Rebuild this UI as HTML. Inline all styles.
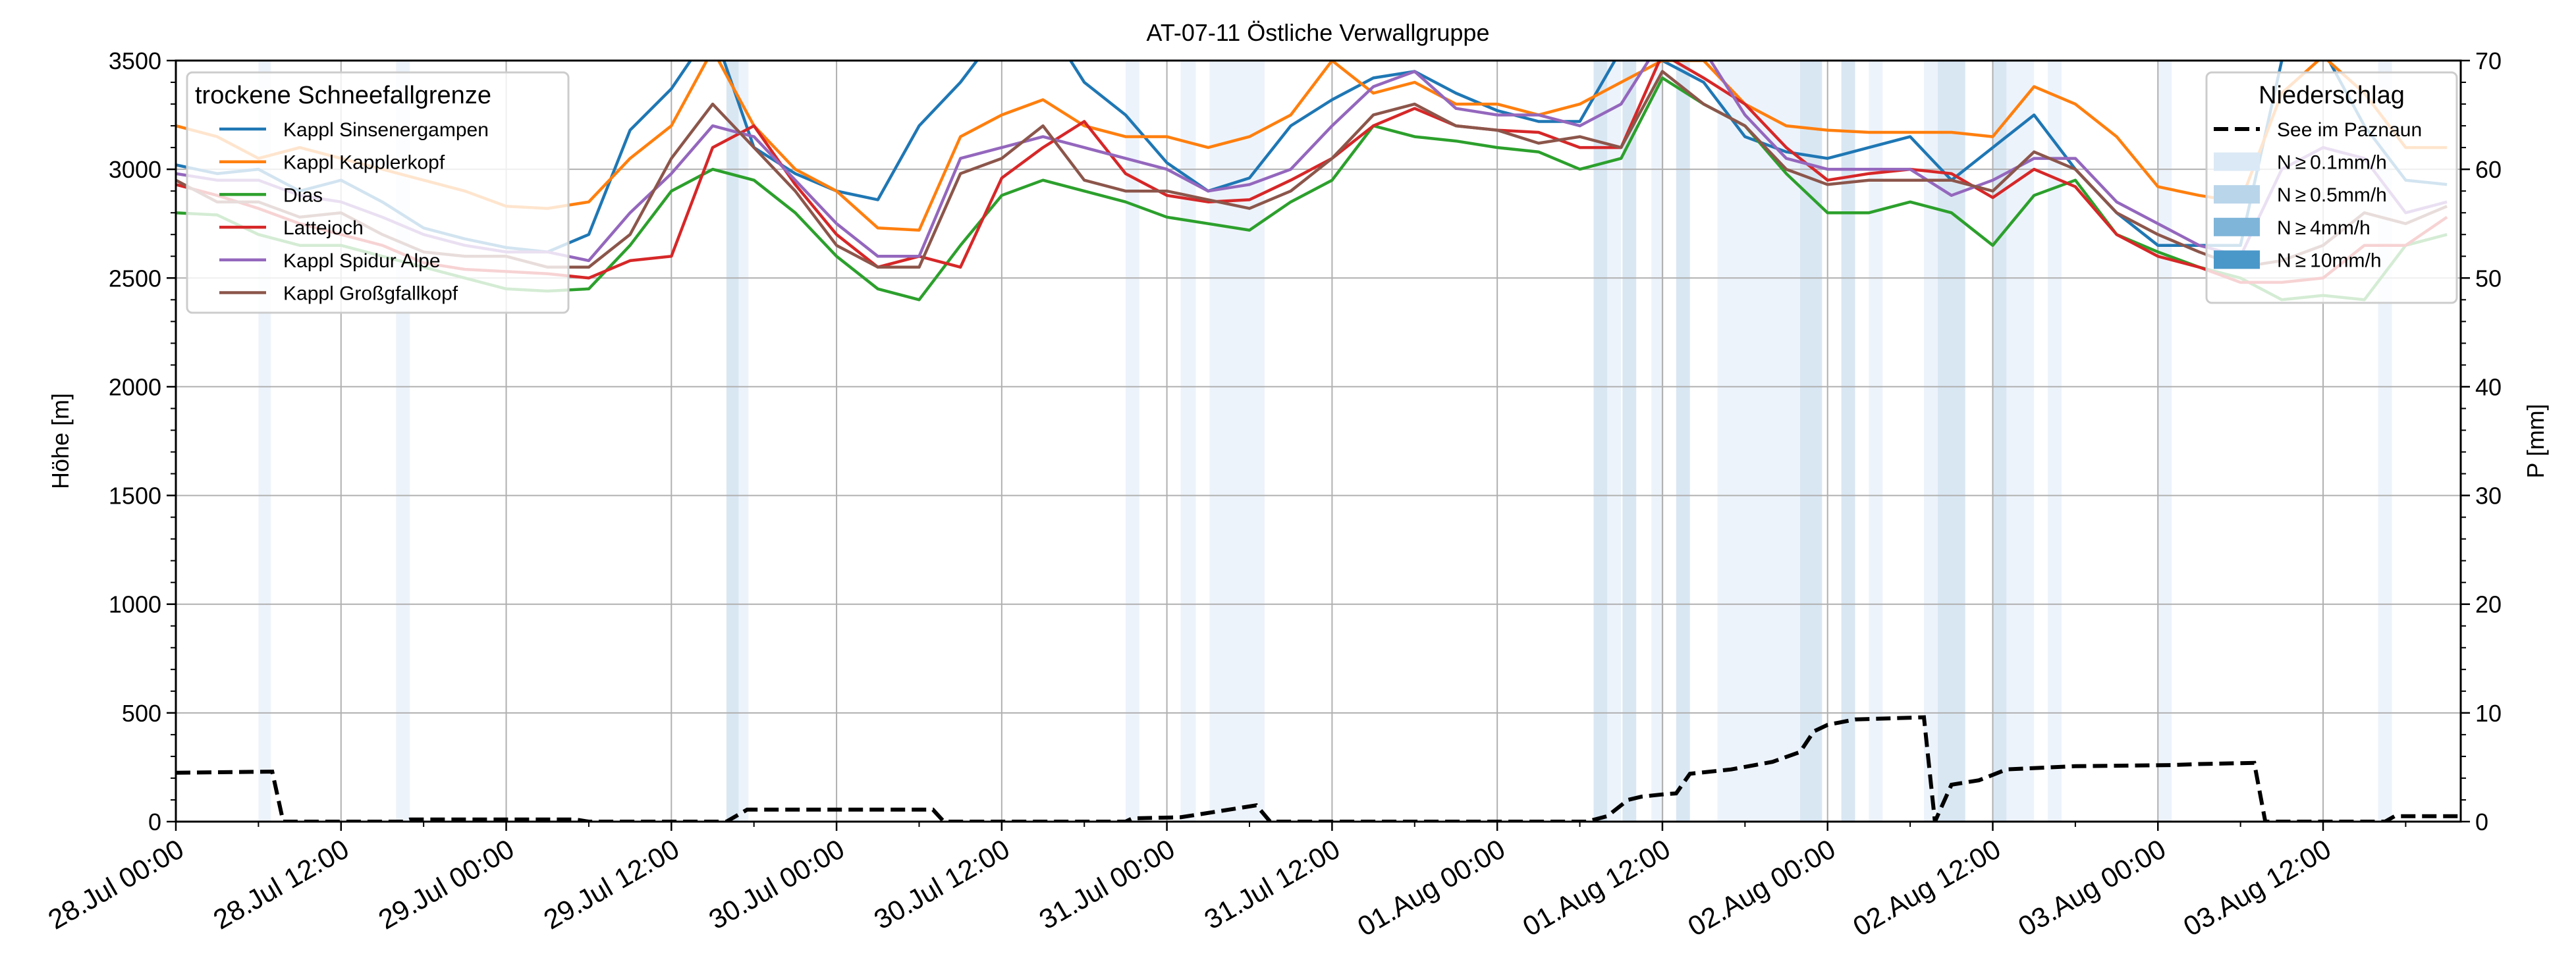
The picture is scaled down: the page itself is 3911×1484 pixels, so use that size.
<!DOCTYPE html>
<html><head><meta charset="utf-8"><style>
html,body{margin:0;padding:0;background:#fff;}
svg{display:block;font-family:"Liberation Sans","DejaVu Sans",sans-serif;}
</style></head><body>
<svg id="chart" width="3911" height="1484" viewBox="0 0 3911 1484" xmlns="http://www.w3.org/2000/svg">
<defs><clipPath id="plotclip"><rect x="267" y="92" width="3469" height="1156"/></clipPath></defs>
<rect width="3911" height="1484" fill="#fff"/>
<g id="bands" clip-path="url(#plotclip)"></g>
<g id="grid"></g>
<g id="series" clip-path="url(#plotclip)"></g>
<g id="axes"></g>
<text x="2001" y="62" font-size="36" text-anchor="middle">AT-07-11 Östliche Verwallgruppe</text>
<text x="0" y="0" font-size="36" text-anchor="middle" transform="translate(104,670) rotate(-90)">Höhe [m]</text>
<text x="0" y="0" font-size="36" text-anchor="middle" transform="translate(3862,670) rotate(-90)">P [mm]</text>
<g id="legend-left"></g>
<g id="legend-right"></g>
</svg>
<script>
const hours = [];
for (let k = 0; k < 56; k++) hours.push(k * 3);
const seriesNames = ["Kappl Sinsenergampen","Kappl Kapplerkopf","Dias","Lattejoch","Kappl Spidur Alpe","Kappl Großgfallkopf"];
const sinsenergampen = [3020,2980,3000,2900,2950,2850,2730,2680,2640,2620,2700,3180,3370,3650,3100,2980,2900,2860,3200,3400,3650,3700,3400,3250,3030,2900,2960,3200,3320,3420,3450,3350,3270,3220,3220,3550,3500,3400,3150,3080,3050,3100,3150,2950,3100,3250,3000,2800,2650,2650,2650,3500,3550,3200,2950,2930];
const kapplerkopf = [3200,3150,3050,3100,3050,3000,2950,2900,2830,2820,2850,3050,3200,3550,3200,3000,2900,2730,2720,3150,3250,3320,3200,3150,3150,3100,3150,3250,3500,3350,3400,3300,3300,3250,3300,3400,3500,3500,3300,3200,3180,3170,3170,3170,3150,3380,3300,3150,2920,2880,2850,3350,3520,3350,3100,3100];
const dias = [2800,2790,2700,2650,2650,2600,2550,2500,2450,2440,2450,2650,2900,3000,2950,2800,2600,2450,2400,2650,2880,2950,2900,2850,2780,2750,2720,2850,2950,3200,3150,3130,3100,3080,3000,3050,3420,3300,3200,2980,2800,2800,2850,2800,2650,2880,2950,2700,2620,2550,2500,2400,2420,2400,2650,2700];
const lattejoch = [2930,2880,2820,2750,2700,2650,2570,2540,2530,2520,2500,2580,2600,3100,3200,2930,2700,2550,2600,2550,2960,3100,3220,2980,2880,2850,2860,2950,3050,3200,3280,3200,3180,3170,3100,3100,3530,3420,3300,3100,2950,2980,3000,2980,2870,3000,2920,2700,2600,2550,2480,2480,2500,2650,2650,2780];
const spidurAlpe = [2980,2950,2950,2880,2850,2780,2700,2650,2620,2620,2580,2800,2980,3200,3150,2950,2750,2600,2600,3050,3100,3150,3100,3050,3000,2900,2930,3000,3200,3380,3450,3280,3250,3250,3200,3300,3600,3550,3250,3050,3000,3000,3000,2880,2950,3050,3050,2850,2750,2650,2600,3000,3100,3050,2800,2850];
const grossgfallkopf = [2950,2850,2850,2780,2800,2700,2620,2600,2600,2550,2550,2700,3050,3300,3100,2900,2650,2550,2550,2980,3050,3200,2950,2900,2900,2860,2820,2900,3050,3250,3300,3200,3180,3120,3150,3100,3450,3300,3200,3000,2930,2950,2950,2950,2900,3080,3000,2800,2700,2620,2550,2580,2650,2800,2750,2830];
const seePaznaunHours = [0,7,7.8,16.5,17,29,30,40,41.5,55,55.8,69,69.5,73,77,78.5,79.5,102.5,104,105.5,106.5,108,109,110,113,116,118,119,120,122,127,127.8,129,131,133,138,145,147,151,151.8,160.5,161.2,166];
const seePaznaunMm = [4.5,4.6,0,0,0.2,0.2,0,0,1.1,1.1,0,0,0.3,0.4,1.2,1.5,0,0,0.5,2,2.3,2.5,2.6,4.4,4.8,5.5,6.4,8.3,8.9,9.4,9.6,0,3.4,3.8,4.8,5.1,5.2,5.3,5.4,0,0,0.5,0.5];
const bandStart = [6,16,40,40.9,69,73,75.1,103,104,105.1,107.2,109,112,118,121,123,127,128,132,133,136,144,160];
const bandEnd = [6.9,17,40.9,41.6,70,74.1,79.1,104,105,106.1,108.1,110,118,119.6,122,124,128,130,133,135,137,145,161];
const bandLevel = [0,0,1,0,0,0,0,1,0,1,0,1,0,1,1,0,0,1,1,0,0,0,0];
const xTickLabels = ["28.Jul 00:00","28.Jul 12:00","29.Jul 00:00","29.Jul 12:00","30.Jul 00:00","30.Jul 12:00","31.Jul 00:00","31.Jul 12:00","01.Aug 00:00","01.Aug 12:00","02.Aug 00:00","02.Aug 12:00","03.Aug 00:00","03.Aug 12:00"];
const yTicks = [0,500,1000,1500,2000,2500,3000,3500];
const y2Ticks = [0,10,20,30,40,50,60,70];

const L=267,R=3736,T=92,B=1248,HMAX=166;
const xS=h=>L+(h/HMAX)*(R-L);
const yS=v=>B-(v/3500)*(B-T);
const y2S=v=>B-(v/70)*(B-T);
const NS="http://www.w3.org/2000/svg";
function mk(tag,attrs,parent){const e=document.createElementNS(NS,tag);for(const k in attrs)e.setAttribute(k,attrs[k]);parent.appendChild(e);return e;}
const bandColors=["#edf3fb","#d9e7f3"];
const gB=document.getElementById('bands');
bandStart.forEach((s,i)=>{
  const r=mk('rect',{x:xS(s),y:T,width:xS(bandEnd[i])-xS(s),height:B-T,fill:bandColors[bandLevel[i]]},gB);
  
  
});
const gG=document.getElementById('grid');
const gA=document.getElementById('axes');
xTickLabels.forEach((lab,i)=>{
  const x=xS(i*12);
  const gl=mk('line',{x1:x,x2:x,y1:T,y2:B,stroke:'#b0b0b0','stroke-width':2},gG);
  
  
  mk('line',{x1:x,x2:x,y1:B,y2:B+14,stroke:'#000','stroke-width':2.5},gA);
  const t=mk('text',{x:0,y:0,'font-size':42,'text-anchor':'end',transform:`translate(${x},${B+24}) rotate(-30)`,'dominant-baseline':'hanging'},gA);
  t.textContent=lab;
  
  
});
for(let h=6;h<HMAX;h+=12){const x=xS(h);mk('line',{x1:x,x2:x,y1:B,y2:B+8,stroke:'#000','stroke-width':2},gA);}
yTicks.forEach(v=>{
  const y=yS(v);
  const gl=mk('line',{x1:L,x2:R,y1:y,y2:y,stroke:'#b0b0b0','stroke-width':2},gG);
  
  
  mk('line',{x1:L-14,x2:L,y1:y,y2:y,stroke:'#000','stroke-width':2.5},gA);
  const t=mk('text',{x:L-22,y:y+13,'font-size':36,'text-anchor':'end'},gA);
  t.textContent=v;
  
  
});
for(let v=100;v<3500;v+=100){if(v%500===0)continue;const y=yS(v);mk('line',{x1:L-8,x2:L,y1:y,y2:y,stroke:'#000','stroke-width':2},gA);mk('line',{x1:R,x2:R+8,y1:y,y2:y,stroke:'#000','stroke-width':2},gA);}
y2Ticks.forEach(v=>{
  const y=y2S(v);
  mk('line',{x1:R,x2:R+14,y1:y,y2:y,stroke:'#000','stroke-width':2.5},gA);
  const t=mk('text',{x:R+22,y:y+13,'font-size':36,'text-anchor':'start'},gA);
  t.textContent=v;
  
  
});
mk('rect',{x:L,y:T,width:R-L,height:B-T,fill:'none',stroke:'#000','stroke-width':3},gA);

const colors=['#1f77b4','#ff7f0e','#2ca02c','#d62728','#9467bd','#8c564b'];
const allSeries=[sinsenergampen,kapplerkopf,dias,lattejoch,spidurAlpe,grossgfallkopf];
const gS=document.getElementById('series');
const seriesKeys=['sinsenergampen','kapplerkopf','dias','lattejoch','spidur-alpe','grossgfallkopf'];
allSeries.forEach((arr,i)=>{
  const d=arr.map((v,k)=>(k?'L':'M')+xS(hours[k]).toFixed(1)+' '+yS(v).toFixed(1)).join(' ');
  const p=mk('path',{d:d,fill:'none',stroke:colors[i],'stroke-width':4.5,'stroke-linejoin':'round'},gS);
  
  
});
const dd=seePaznaunHours.map((h,k)=>(k?'L':'M')+xS(h).toFixed(1)+' '+y2S(seePaznaunMm[k]).toFixed(1)).join(' ');
const dp=mk('path',{d:dd,fill:'none',stroke:'#000','stroke-width':6,'stroke-dasharray':'22 10'},gS);



const gL=document.getElementById('legend-left');
mk('rect',{x:284,y:110,width:579,height:365,rx:8,fill:'#fff','fill-opacity':0.8,stroke:'#cccccc','stroke-width':3},gL);
const lt=mk('text',{x:296,y:157,'font-size':38},gL);lt.textContent='trockene Schneefallgrenze';


seriesNames.forEach((n,i)=>{
  const y=196+i*49.7;
  const g=mk('g',{},gL);
  
  
  mk('line',{x1:333,x2:404,y1:y,y2:y,stroke:colors[i],'stroke-width':4.5},g);
  const t=mk('text',{x:430,y:y+11,'font-size':30},g);t.textContent=n;
});
const gR=document.getElementById('legend-right');
mk('rect',{x:3350,y:110,width:380,height:350,rx:8,fill:'#fff','fill-opacity':0.8,stroke:'#cccccc','stroke-width':3},gR);
const rt=mk('text',{x:3540,y:157,'font-size':38,'text-anchor':'middle'},gR);rt.textContent='Niederschlag';


const rLabels=['See im Paznaun','N\u2009≥\u20090.1mm/h','N\u2009≥\u20090.5mm/h','N\u2009≥\u20094mm/h','N\u2009≥\u200910mm/h'];
const rColors=['#000','#dbe9f6','#b9d5ea','#7fb5d9','#4a98c9'];
rLabels.forEach((n,i)=>{
  const y=196+i*49.6;
  const g=mk('g',{},gR);
  
  
  if(i===0) mk('line',{x1:3361,x2:3431,y1:y,y2:y,stroke:'#000','stroke-width':6,'stroke-dasharray':'22 10'},g);
  else mk('rect',{x:3361,y:y-14,width:70,height:28,fill:rColors[i]},g);
  const t=mk('text',{x:3457,y:y+11,'font-size':30},g);t.textContent=n;
});
</script>
</body></html>
